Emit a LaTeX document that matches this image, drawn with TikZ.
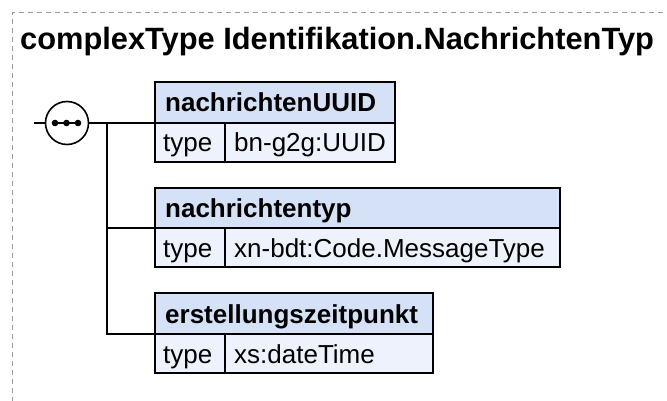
\documentclass[tikz,border=0pt]{standalone}
\usepackage{fontspec}
\setmainfont{Liberation Sans}
\definecolor{hdrblue}{HTML}{D4E1F7}
\definecolor{rowblue}{HTML}{EDF2FC}
\definecolor{frame}{HTML}{9A9A9A}
\begin{document}
\begin{tikzpicture}[x=1pt,y=-1pt,
  hdr/.style={draw=black,line width=1.8pt,fill=hdrblue,inner sep=0pt,outer sep=0pt,anchor=north west},
  cell/.style={draw=black,line width=1.8pt,fill=rowblue,inner sep=0pt,outer sep=0pt,anchor=north west},
  hdrtext/.style={anchor=base west,inner sep=0pt,font=\fontsize{26}{30}\selectfont\bfseries},
  celltext/.style={anchor=base west,inner sep=0pt,font=\fontsize{26}{30}\selectfont},
  wire/.style={line width=1.6pt},
  outline/.style={draw=frame,line width=1pt,dash pattern=on 5pt off 4pt}]
\useasboundingbox (0,0) rectangle (667,401);
\clip (0,0) rectangle (667,401);
\fill[white] (0,0) rectangle (667,401);

% dashed frame of the complex type
\draw[outline] (12.5,420) -- (12.5,12.5) -- (690,12.5);
\node[anchor=base west,inner sep=0pt,font=\fontsize{30.8}{36}\selectfont\bfseries] (title) at (20,50) {complexType Identifikation.NachrichtenTyp};

% sequence compositor
\coordinate (in) at (34,123);
\node[circle,draw=black,line width=1.6pt,fill=white,minimum size=43pt,inner sep=0pt,outer sep=0pt] (seq) at (67,123) {};
\draw[wire] (in) -- (seq.west);
\draw[line width=1.8pt] (55,123) -- (78,123);
\foreach \dx in {55,66.5,78} \fill (\dx,123) circle (3.3pt);

% element nachrichtenUUID
\node[hdr,minimum width=240pt,minimum height=41pt] (h1) at (155,82) {};
\node[cell,minimum width=70pt,minimum height=39pt] (t1) at (155,123) {};
\node[cell,minimum width=170pt,minimum height=39pt] (v1) at (225,123) {};
\node[hdrtext] (h1l) at (165,112) {nachrichtenUUID};
\node[celltext] (t1l) at (163,152) {type};
\node[celltext] (v1l) at (234,152) {bn-g2g:UUID};

% element nachrichtentyp
\node[hdr,minimum width=405pt,minimum height=40pt] (h2) at (155,188) {};
\node[cell,minimum width=70pt,minimum height=39pt] (t2) at (155,228) {};
\node[cell,minimum width=335pt,minimum height=39pt] (v2) at (225,228) {};
\node[hdrtext] (h2l) at (165,217) {nachrichtentyp};
\node[celltext] (t2l) at (163,257) {type};
\node[celltext] (v2l) at (234,257) {xn-bdt:Code.MessageType};

% element erstellungszeitpunkt
\node[hdr,minimum width=278pt,minimum height=41pt] (h3) at (155,293) {};
\node[cell,minimum width=70pt,minimum height=39pt] (t3) at (155,334) {};
\node[cell,minimum width=208pt,minimum height=39pt] (v3) at (225,334) {};
\node[hdrtext] (h3l) at (165,323) {erstellungszeitpunkt};
\node[celltext] (t3l) at (163,363) {type};
\node[celltext] (v3l) at (234,363) {xs:dateTime};

% connectors from the sequence to its children
\coordinate (fork) at (107,123);
\draw[wire] (seq.east) -- (h1.south west);
\draw[wire] (fork) |- (h2.south west);
\draw[wire] (fork) |- (h3.south west);
\end{tikzpicture}
\end{document}
